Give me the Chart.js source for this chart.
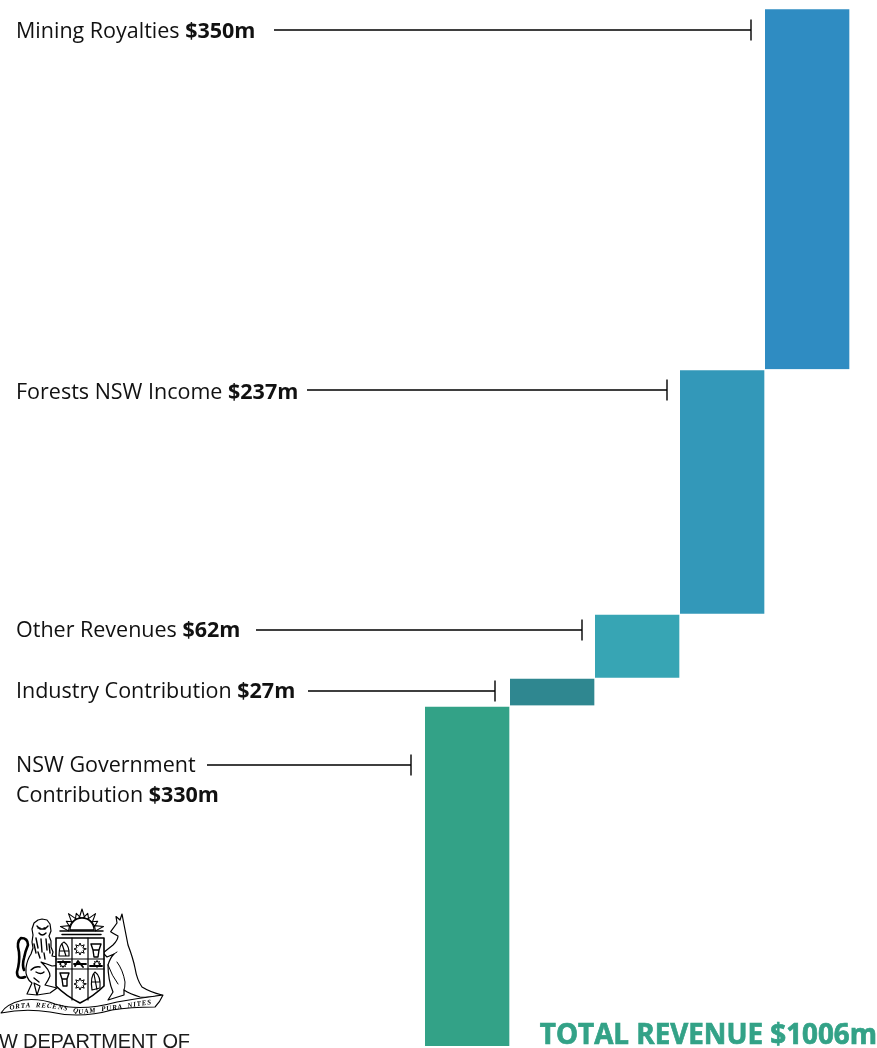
<!DOCTYPE html>
<html>
<head>
<meta charset="utf-8">
<title>Total revenue by source</title>
<style>
  html, body { margin: 0; padding: 0; background: #fff; overflow: hidden; }
  #wrap { position: relative; width: 877px; height: 1048px; }
  #crest { position: absolute; left: 0; top: 0; width: 877px; height: 1048px; pointer-events: none; }
</style>
<script src="https://cdn.jsdelivr.net/npm/chart.js@4"></script>
</head>
<body>
<div id="wrap">
  <canvas id="chart" width="877" height="1048"></canvas>
  <svg id="crest" viewBox="0 0 877 1048" xmlns="http://www.w3.org/2000/svg">
    <g id="arms" fill="none" stroke="#000" stroke-width="1.2" stroke-linejoin="round" stroke-linecap="round">
      <!-- sun rising over the shield -->
      <g id="rays" fill="#fff" stroke-width="1.1"></g>
      <path d="M70 930 A12 12 0 0 1 94 930 Z" fill="#fff" stroke-width="1.3"/>
      <path d="M60 931 H103 M62 934.5 H101" stroke-width="1.5"/>
      <!-- kangaroo supporter -->
      <path d="M110.7 931.7 L117 923 L116 916.5 L120 920 L122 914 L123.5 922 Q126 935 128 945 Q133 958 135 968 Q137 980 142 987 Q150 992 162 995 Q150 998 140 997 Q130 994 124 990 L124 995 L108 1000 L113 992 Q108 980 108 965 Q110 958 114 954 L107 957 L103 953 L113 945 Q118 940 118 936 Q114 934 110.7 931.7 Z" fill="#fff"/>
      <path d="M117 962 Q123 970 125 982 Q125 988 124 990 M108 965 Q112 976 118 984 M114 954 L117 952" stroke-width="1"/>
      <!-- lion supporter -->
      <path d="M25 977 Q17 980 17 972 Q20 962 19 952 Q16 942 21 938 Q28 938 28 945 Q25 952 24 958 Q22 965 24 970" stroke-width="2.6"/>
      <path d="M34 923 L38 920 L42 919 L47 920 L50 924 L51 931 L49 936 L51 941 L51 947 L53 952 L52 956 Q60 957 68 962 L64 967 Q58 965 52 966 Q47 964 41 962 Q50 970 50 976 Q48 981 45 985 L57 988 L50 993 L37 995 L40 986 L34 983 L37 995 L27 994 L32 983 Q25 978 26 968 Q27 960 31 954 L33 948 L32 942 L33 935 L32 929 Z" fill="#fff"/>
      <path d="M37 926 L40 929 L45 929 L48 926 M39 933 Q42 937 46 933 M38 928 H40 M44 928 H46 M36 938 L38 948 M41 939 L42 952 M46 939 L47 950 M34 944 L36 953 M49 944 L50 953 M38 952 L40 958 M44 953 L45 959 M31 970 Q35 966 40 967 M36 972 Q41 975 44 972 M34 978 L39 982" stroke-width="1.4"/>
      <!-- shield -->
      <path d="M56 938 H104 V986 Q94 996 80 1003 Q66 996 56 986 Z" fill="#fff" stroke-width="1.6"/>
      <path d="M72 938 V1000 M88 938 V1000 M56 959 H104 M56 969 H104" stroke-width="1.2"/>
      <g id="stars" stroke-width="1"></g>
      <!-- wheat sheaves and fleeces in the quarters -->
      <path d="M59 956 Q59 944 64 942 Q70 946 69 956 Z M60 951 H68 M62 944 L66 956" stroke-width="1.2"/>
      <path d="M91 944 H101 L99 950 L98 957 H94 L93 950 Z M93 950 H99" stroke-width="1.4"/>
      <path d="M60 973 H69 L67 979 L67 986 H63 L62 979 Z M62 979 H67" stroke-width="1.4"/>
      <path d="M92 990 Q90 976 95 972 Q101 976 100 988 Z M92 982 H100 M94 974 L97 990" stroke-width="1.2"/>
      <path d="M74 964 H86 M58 962 H70 M90 966 H102 M75 966 L78 961 L83 967" stroke-width="1.9"/>
      <!-- motto scroll -->
      <path d="M1 1013 Q6 1004 23 1000 Q40 998 55 1004 Q80 1012 117 1002 Q140 998 163 995 Q160 1002 155 1007 Q130 1007 112 1010 Q80 1019 50 1012 Q25 1008 1 1013 Z" fill="#fff" stroke-width="1.1"/>
      <path id="motto" d="M10 1010 Q40 1003 80 1014 Q115 1010 155 1003.5" stroke="none"/>
    </g>
    <text font-family="'Liberation Serif', serif" font-size="7" font-weight="bold" font-style="italic" fill="#000" xml:space="preserve"><textPath href="#motto" textLength="143">ORTA  RECENS  QUAM  PURA  NITES</textPath></text>
    <text x="-1" y="1048" font-family="'Liberation Sans', Arial, sans-serif" font-size="20" fill="#1a1a1a" textLength="191">W DEPARTMENT OF</text>
  </svg>
</div>
<script>
// Revenue sources, stacked from the bottom of the staircase upward.
const categories = ['NSW Government Contribution', 'Industry Contribution', 'Other Revenues', 'Forests NSW Income', 'Mining Royalties'];
const revenue = [330, 27, 62, 237, 350];
const totalRevenue = 1006;
const barColours = ['#33a287', '#2f8790', '#37a5b4', '#3398b9', '#2f8cc2'];

// Each step starts where the previous one ended.
let running = 0;
const steps = revenue.map(v => { const s = [running, running + v]; running += v; return s; });

// Callout lines: text lines, line start, offset below the bar top, gap before the bar.
const callouts = [
  { lines: ['NSW Government', 'Contribution'], startX: 207, drop: 59, textY: 772, gap: 30, tickGap: 14 },
  { lines: ['Industry Contribution'], startX: 308, drop: 13, textY: 698, tickGap: 15 },
  { lines: ['Other Revenues'], startX: 256, drop: 16, textY: 637, tickGap: 13 },
  { lines: ['Forests NSW Income'], startX: 307, drop: 21, textY: 399, tickGap: 13 },
  { lines: ['Mining Royalties'], startX: 274, drop: 22, textY: 38, tickGap: 14 }
];

const regular = "21.5px 'Open Sans', sans-serif";
const bold = "bold 21.5px 'Open Sans', sans-serif";

const calloutPlugin = {
  id: 'callouts',
  afterDatasetsDraw(chart) {
    const { ctx, scales: { x, y } } = chart;
    const halfBar = (x.getPixelForValue(1) - x.getPixelForValue(0)) / 2;
    ctx.save();
    ctx.textBaseline = 'alphabetic';
    ctx.textAlign = 'left';
    callouts.forEach((c, i) => {
      ctx.fillStyle = '#111';
      // The last text line carries the amount in bold.
      c.lines.forEach((line, n) => {
        const ty = c.textY + n * (c.gap || 0);
        const last = n === c.lines.length - 1;
        ctx.font = regular;
        const text = last ? line + ' ' : line;
        ctx.fillText(text, 16, ty);
        if (last) {
          const w = ctx.measureText(text).width;
          ctx.font = bold;
          ctx.fillText('$' + revenue[i] + 'm', 16 + w, ty);
        }
      });
      // Leader with an end tick, just short of the bar.
      const ly = Math.round(y.getPixelForValue(steps[i][1])) + c.drop;
      const tickX = Math.round(x.getPixelForValue(i) - halfBar - c.tickGap);
      ctx.strokeStyle = '#000';
      ctx.lineWidth = 1.4;
      ctx.beginPath();
      ctx.moveTo(c.startX, ly);
      ctx.lineTo(tickX, ly);
      ctx.moveTo(tickX, ly - 10.5);
      ctx.lineTo(tickX, ly + 10.5);
      ctx.stroke();
    });
    // Grand total along the foot of the chart.
    ctx.font = "bold 27.8px 'Open Sans', sans-serif";
    ctx.fillStyle = '#33a287';
    ctx.strokeStyle = '#33a287';
    ctx.lineWidth = 0.7;
    ctx.textAlign = 'right';
    const totalText = 'TOTAL REVENUE $' + totalRevenue + 'm';
    ctx.fillText(totalText, 877, 1044);
    ctx.strokeText(totalText, 877, 1044);
    ctx.restore();
  }
};

new Chart(document.getElementById('chart'), {
  type: 'bar',
  data: {
    labels: categories,
    datasets: [{
      data: steps,
      backgroundColor: barColours,
      borderColor: '#ffffff',
      borderWidth: { top: 1.5, right: 1, left: 0, bottom: 0 },
      borderSkipped: false,
      categoryPercentage: 1,
      barPercentage: 1
    }]
  },
  options: {
    responsive: false,
    animation: false,
    layout: { padding: { left: 425, right: 27, top: 8, bottom: 2 } },
    plugins: { legend: { display: false }, tooltip: { enabled: false } },
    scales: {
      x: { display: false },
      y: { display: false, min: 0, max: totalRevenue }
    }
  },
  plugins: [calloutPlugin]
});

// Sun rays and the stars on the shield.
const NS = 'http://www.w3.org/2000/svg';
const raysGroup = document.getElementById('rays');
[-78, -58, -38, -18, 0, 18, 38, 58, 78].forEach((a, k) => {
  const r = a * Math.PI / 180, cx = 82, cy = 931, len = k % 2 ? 18.5 : 22;
  const tip = [cx + Math.sin(r) * len, cy - Math.cos(r) * len];
  const b1 = [cx + Math.sin(r - 0.2) * 13.5, cy - Math.cos(r - 0.2) * 13.5];
  const b2 = [cx + Math.sin(r + 0.2) * 13.5, cy - Math.cos(r + 0.2) * 13.5];
  const p = document.createElementNS(NS, 'path');
  p.setAttribute('d', `M${b1} L${tip} L${b2} Z`);
  raysGroup.appendChild(p);
});
const starsGroup = document.getElementById('stars');
[[80, 949, 6], [80, 984, 6], [63, 964, 3.6], [97, 964, 3.6]].forEach(([cx, cy, R]) => {
  let d = '';
  for (let i = 0; i < 16; i++) {
    const t = i * Math.PI / 8, rad = i % 2 ? R * 0.55 : R;
    d += (i ? 'L' : 'M') + (cx + Math.cos(t) * rad).toFixed(1) + ' ' + (cy + Math.sin(t) * rad).toFixed(1);
  }
  const s = document.createElementNS(NS, 'path');
  s.setAttribute('d', d + 'Z');
  starsGroup.appendChild(s);
});
</script>
</body>
</html>
